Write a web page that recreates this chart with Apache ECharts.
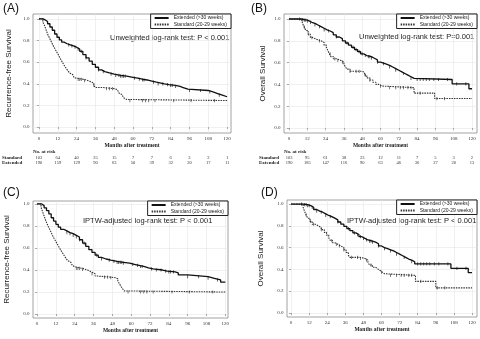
<!DOCTYPE html>
<html><head><meta charset="utf-8">
<script src="https://cdn.jsdelivr.net/npm/echarts@6/dist/echarts.min.js"></script>
<style>html,body{margin:0;padding:0;background:#fff}#c{width:480px;height:339px}</style>
</head><body><div id="c"></div>
<script>
// ---------- DATA ----------
const monthTicks = [0,12,24,36,48,60,72,84,96,108,120];
const survivalTicks = [0,0.2,0.4,0.6,0.8,1.0];
const groupNames = ['Extended (>30 weeks)','Standard (20-29 weeks)'];
const panelLabels = ['(A)','(B)','(C)','(D)'];
const yTitles = ['Recurrence-free Survival','Overall Survival','Recurrence-free Survival','Overall Survival'];
const xTitle = 'Months after treatment';
const testTexts = ['Unweighted log-rank test: P < 0.001','Unweighted log-rank test: P=0.001','IPTW-adjusted log-rank test: P < 0.001','IPTW-adjusted log-rank test: P < 0.001'];
const riskTitle = 'No. at risk';
const riskRowNames = ['Standard','Extended'];
const riskStandardA = [103,64,40,25,15,7,7,6,3,2,1];
const riskExtendedA = [190,159,129,90,63,50,39,32,20,17,11];
const riskStandardB = [103,95,61,38,23,12,11,7,5,3,2];
const riskExtendedB = [190,185,147,116,90,63,46,36,27,20,13];

// Kaplan-Meier change points [month, survival]
const rfsUnweightedExtended = [[0,1],[2.5,0.99],[4,0.975],[5.5,0.955],[7,0.925],[8.5,0.895],[10,0.86],[11.5,0.83],[13,0.805],[14.5,0.785],[16,0.77],[18,0.76],[20,0.75],[22,0.738],[24,0.72],[26,0.70],[28,0.67],[30,0.64],[32,0.61],[34,0.58],[36,0.553],[38,0.528],[40,0.512],[42,0.50],[45,0.49],[48,0.478],[52,0.47],[56,0.46],[60,0.452],[63,0.442],[66,0.435],[69,0.425],[72,0.415],[75,0.40],[80,0.392],[83,0.385],[87,0.375],[90,0.365],[92,0.35],[95,0.338],[108,0.325],[111,0.31],[114,0.295],[117,0.28],[120,0.275]];
const rfsUnweightedStandard = [[0,1],[2.5,0.97],[3.5,0.94],[4.5,0.90],[5.5,0.86],[6.5,0.83],[7.5,0.80],[8.5,0.77],[9.5,0.74],[10.5,0.715],[11.5,0.69],[12.5,0.665],[13.5,0.635],[14.5,0.61],[15.5,0.585],[16.5,0.56],[17.5,0.54],[18.5,0.52],[19.5,0.50],[20.5,0.485],[21.5,0.47],[22.5,0.455],[23.5,0.44],[29,0.43],[31,0.42],[33,0.405],[35,0.385],[36,0.365],[41,0.355],[48,0.345],[50,0.33],[51,0.315],[52,0.30],[53,0.285],[54,0.27],[55,0.255],[56,0.245],[120,0.245]];
const osUnweightedExtended = [[0,1],[8,0.995],[10,0.99],[12,0.98],[13.5,0.97],[15,0.96],[17,0.945],[19,0.93],[21,0.915],[23,0.90],[25,0.89],[27,0.875],[29,0.855],[31,0.835],[33,0.82],[35,0.80],[37,0.78],[39,0.76],[41,0.74],[43,0.72],[45,0.70],[47,0.68],[49,0.665],[51,0.655],[54,0.64],[56,0.625],[58,0.605],[60,0.59],[63,0.575],[66,0.56],[68,0.545],[70,0.53],[72,0.515],[74,0.50],[76,0.485],[78,0.47],[80,0.455],[82,0.445],[107,0.405],[118,0.36],[120,0.36]];
const osUnweightedStandard = [[0,1],[8,0.985],[9,0.955],[10,0.925],[11,0.895],[12.5,0.86],[14,0.83],[15.5,0.815],[18,0.80],[21,0.785],[23,0.76],[24.5,0.74],[25.5,0.71],[26.5,0.68],[27.5,0.655],[29,0.635],[31,0.62],[34,0.605],[36,0.585],[37,0.56],[38,0.54],[40,0.52],[48,0.51],[49.5,0.485],[51,0.46],[53,0.44],[55,0.42],[57,0.40],[59,0.385],[61,0.37],[82,0.32],[95.5,0.27],[120,0.27]];
const rfsIptwExtended = [[0,1],[3,0.985],[4.5,0.965],[6,0.94],[7.5,0.91],[9,0.875],[10.5,0.845],[12,0.815],[13.5,0.79],[15,0.77],[17,0.755],[19,0.74],[21,0.73],[23,0.715],[25,0.70],[27,0.675],[29,0.645],[31,0.615],[33,0.585],[35,0.56],[37,0.535],[39,0.515],[41,0.50],[44,0.49],[47,0.478],[51,0.47],[55,0.462],[59,0.452],[62,0.442],[65,0.432],[68,0.42],[71,0.41],[74,0.40],[80,0.39],[83,0.383],[88,0.375],[90,0.355],[96,0.34],[109,0.325],[113,0.31],[117,0.29],[120,0.29]];
const rfsIptwStandard = [[0,1],[2.5,0.97],[3.5,0.93],[4.5,0.89],[5.5,0.85],[6.5,0.815],[7.5,0.785],[8.5,0.755],[9.5,0.725],[10.5,0.695],[11.5,0.67],[12.5,0.645],[13.5,0.62],[14.5,0.595],[15.5,0.57],[16.5,0.55],[17.5,0.525],[18.5,0.505],[19.5,0.485],[20.5,0.47],[21.5,0.455],[22.5,0.44],[23.5,0.425],[25,0.415],[29,0.405],[31,0.395],[33,0.38],[35,0.365],[37,0.345],[38.5,0.335],[47,0.33],[50,0.32],[51.5,0.30],[52.5,0.275],[53.5,0.25],[54.5,0.23],[55.5,0.21],[56.5,0.20],[120,0.20]];
const osIptwExtended = [[0,1],[8,0.995],[11,0.985],[13,0.97],[15,0.95],[17,0.935],[19,0.925],[21,0.91],[23,0.895],[25,0.885],[27,0.87],[29,0.855],[31,0.835],[33,0.815],[35,0.795],[37,0.775],[39,0.755],[41,0.735],[43,0.72],[45,0.70],[47,0.685],[49,0.67],[51,0.66],[54,0.65],[56,0.635],[58,0.615],[60,0.60],[62,0.59],[64,0.58],[66,0.57],[68,0.555],[70,0.54],[72,0.525],[74,0.51],[76,0.495],[78,0.485],[80,0.47],[82,0.45],[106,0.41],[117.5,0.37],[120,0.37]];
const osIptwStandard = [[0,1],[8,0.97],[9,0.93],[10,0.90],[11,0.87],[12.5,0.84],[14,0.815],[16,0.80],[18,0.785],[20,0.765],[22,0.74],[23.5,0.715],[25,0.69],[26,0.665],[27.5,0.645],[29,0.63],[31,0.615],[33,0.60],[35,0.58],[36.5,0.555],[38,0.53],[39,0.51],[46,0.50],[49,0.485],[51,0.465],[52,0.44],[54,0.42],[56,0.405],[57.5,0.39],[59,0.375],[60.5,0.36],[62,0.345],[82.5,0.29],[96,0.23],[120,0.23]];

// censoring times
const censorRfsExtended = [19,21,23,25,27,30,38,41,46,49,51,52,53,54,55,61,64,66,67,73,76,79,82,84,85,87,96,103,109,115];
const censorRfsStandard = [25,26,27,29,35,43,45,47,58,66,68,70,74,86,97,112];
const censorOsExtended = [7,9,10,11,12,14,17,20,23,26,31,38,42,44,46,48,50,52,53,54,58,62,66,70,75,80,84,86,88,90,92,95,98,104,110,116];
const censorOsStandard = [10,13,15,20,27,30,32,35,40,44,46,50,53,60,66,70,73,75,78,80,86,97,102];

const panelCurves = [
  [rfsUnweightedExtended, rfsUnweightedStandard, censorRfsExtended, censorRfsStandard],
  [osUnweightedExtended, osUnweightedStandard, censorOsExtended, censorOsStandard],
  [rfsIptwExtended, rfsIptwStandard, censorRfsExtended, censorRfsStandard],
  [osIptwExtended, osIptwStandard, censorOsExtended, censorOsStandard]
];
const riskTables = [[riskStandardA, riskExtendedA],[riskStandardB, riskExtendedB],null,null];

// ---------- LAYOUT ----------
const layout = [
  {left:33, top:14, width:198, height:119, xmin:-3.8, xmax:122.5, ymin:-0.055, ymax:1.045, nameGap:20, label:[3,3], test:[110,34], risk:[33,2]},
  {left:284, top:14, width:193, height:119, xmin:-3.3, xmax:123.3, ymin:-0.046, ymax:1.046, nameGap:17, label:[251,3], test:[359,33], risk:[284,259]},
  {left:33, top:201, width:195, height:117, xmin:-2.6, xmax:121.7, ymin:-0.036, ymax:1.027, nameGap:22, label:[3,187], test:[83,217], risk:null},
  {left:287, top:200, width:190, height:117, xmin:-2.7, xmax:123.3, ymin:-0.037, ymax:1.037, nameGap:22, label:[261,187], test:[347,217], risk:null}
];
const serif = "'Liberation Serif','DejaVu Serif',serif";
const sans = "'Liberation Sans',Arial,sans-serif";

function survAt(curve, t){ let s = curve[0][1]; for (const p of curve){ if (p[0] <= t) s = p[1]; else break; } return s; }

const grid=[], xAxis=[], yAxis=[], series=[], legend=[], graphic=[];
layout.forEach((L,i)=>{
  grid.push({left:L.left, top:L.top, width:L.width, height:L.height, show:true, borderColor:'#8a8a8a', borderWidth:0.8, backgroundColor:'transparent'});
  xAxis.push({type:'value', gridIndex:i, min:L.xmin, max:L.xmax,
    axisLine:{show:false},
    axisTick:{show:true, length:2, customValues:monthTicks, lineStyle:{color:'#777', width:0.6}},
    axisLabel:{customValues:monthTicks, fontSize:5, margin:3.5, color:'#333', fontFamily:serif},
    splitLine:{show:true, lineStyle:{color:'#e6e6e6', width:0.6}},
    name:xTitle, nameLocation:'middle', nameGap:10,
    nameTextStyle:{fontSize:5.5, fontWeight:'bold', fontFamily:serif, color:'#222'}});
  yAxis.push({type:'value', gridIndex:i, min:L.ymin, max:L.ymax,
    axisLine:{show:false},
    axisTick:{show:true, length:2, customValues:survivalTicks, lineStyle:{color:'#777', width:0.6}},
    axisLabel:{customValues:survivalTicks, fontSize:5, margin:3.5, color:'#333', fontFamily:serif, formatter:v=>v.toFixed(1)},
    splitLine:{show:true, lineStyle:{color:'#e6e6e6', width:0.6}},
    name:yTitles[i], nameLocation:'middle', nameGap:L.nameGap,
    nameTextStyle:{fontSize:8, fontFamily:sans, color:'#222'}});
  const [ext, std, cExt, cStd] = panelCurves[i];
  series.push({name:groupNames[0], type:'line', step:'end', xAxisIndex:i, yAxisIndex:i, data:ext, symbol:'none', showSymbol:false,
    lineStyle:{color:'#111', width:1.3}, itemStyle:{color:'#111'}, silent:true, z:3});
  series.push({name:groupNames[1], type:'line', step:'end', xAxisIndex:i, yAxisIndex:i, data:std, symbol:'none', showSymbol:false,
    lineStyle:{color:'#333', width:1.1, type:[1.5,1]}, itemStyle:{color:'#333'}, silent:true, z:2});
  series.push({name:'censor-ext-'+i, type:'scatter', xAxisIndex:i, yAxisIndex:i, data:cExt.map(t=>[t, survAt(ext,t)]),
    symbol:'rect', symbolSize:[0.8,3.2], itemStyle:{color:'#111'}, silent:true, z:4});
  series.push({name:'censor-std-'+i, type:'scatter', xAxisIndex:i, yAxisIndex:i, data:cStd.map(t=>[t, survAt(std,t)]),
    symbol:'rect', symbolSize:[0.8,3.2], itemStyle:{color:'#333'}, silent:true, z:4});
  legend.push({data:groupNames, orient:'vertical', right:480-(L.left+L.width), top:L.top,
    itemWidth:14, itemHeight:5, itemGap:1.5, padding:[1.5,4,1.5,3], borderColor:'#222', borderWidth:1, backgroundColor:'#fff',
    selectedMode:false, itemStyle:{opacity:0, color:'transparent', borderWidth:0},
    textStyle:{fontSize:5, fontFamily:sans, color:'#222'}});
  graphic.push({type:'text', left:L.label[0], top:L.label[1], style:{text:panelLabels[i], fontSize:12, fontFamily:sans, fill:'#111'}});
  graphic.push({type:'text', left:L.test[0], top:L.test[1], style:{text:testTexts[i], fontSize:7.5, fontFamily:sans, fill:'#222'}});
});

// risk table rows as extra axes sharing each panel's x scale
layout.forEach((L,i)=>{
  const rt = riskTables[i];
  if (!rt) return;
  graphic.push({type:'text', left:L.risk[0], top:149.5, style:{text:riskTitle, fontSize:5, fontWeight:'bold', fontFamily:serif, fill:'#222'}});
  rt.forEach((row,r)=>{
    xAxis.push({type:'value', gridIndex:i, min:L.xmin, max:L.xmax, position:'bottom', offset:25 + r*4.6,
      axisLine:{show:false}, axisTick:{show:false}, splitLine:{show:false},
      axisLabel:{customValues:monthTicks, margin:0, verticalAlign:'middle', fontSize:4.5, color:'#333', fontFamily:serif,
        formatter:v=>String(row[Math.round(v/12)])},
      name:riskRowNames[r], nameLocation:'start', nameGap:L.left-L.risk[1],
      nameTextStyle:{align:'left', verticalAlign:'middle', fontSize:5, fontWeight:'bold', fontFamily:serif, color:'#222'}});
  });
});

const chart = echarts.init(document.getElementById('c'), null, {renderer:'canvas'});
chart.setOption({animation:false, backgroundColor:'#fff', grid, xAxis, yAxis, series, legend, graphic});
</script></body></html>
